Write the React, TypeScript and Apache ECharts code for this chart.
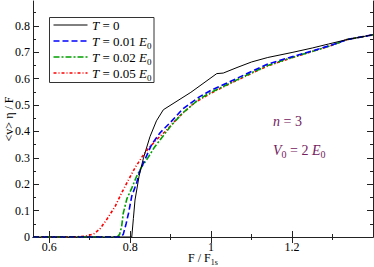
import React, { useEffect, useRef } from "react";
import * as echarts from "echarts";

const xT0 = [0.56, 0.804, 0.808, 0.812, 0.822, 0.833, 0.849, 0.865, 0.882, 0.95, 1.014, 1.03, 1.064, 1.1, 1.14, 1.2, 1.25, 1.29, 1.336, 1.4];
const yT0 = [0, 0, 0.07, 0.14, 0.23, 0.3, 0.38, 0.44, 0.482, 0.548, 0.619, 0.621, 0.642, 0.663, 0.68, 0.699, 0.716, 0.731, 0.748, 0.766];

const xT1 = [0.56, 0.778, 0.783, 0.79, 0.796, 0.804, 0.816, 0.824, 0.837, 0.853, 0.874, 0.9, 0.93, 0.97, 1.0, 1.04, 1.1, 1.14, 1.2, 1.25, 1.3, 1.336, 1.4];
const yT1 = [0, 0, 0.01, 0.05, 0.09, 0.155, 0.205, 0.25, 0.295, 0.35, 0.395, 0.435, 0.485, 0.53, 0.556, 0.584, 0.627, 0.655, 0.683, 0.705, 0.728, 0.748, 0.766];

const xT2 = [0.56, 0.768, 0.774, 0.779, 0.783, 0.792, 0.804, 0.816, 0.83, 0.841, 0.86, 0.88, 0.9, 0.93, 0.97, 1.0, 1.04, 1.1, 1.14, 1.2, 1.25, 1.3, 1.336, 1.4];
const yT2 = [0, 0, 0.01, 0.04, 0.09, 0.145, 0.185, 0.23, 0.27, 0.293, 0.34, 0.38, 0.42, 0.47, 0.522, 0.548, 0.578, 0.622, 0.65, 0.68, 0.703, 0.727, 0.748, 0.766];

const xT5 = [0.56, 0.66, 0.69, 0.71, 0.725, 0.742, 0.763, 0.779, 0.796, 0.812, 0.83, 0.845, 0.866, 0.89, 0.92, 0.96, 1.0, 1.04, 1.1, 1.14, 1.2, 1.25, 1.3, 1.336, 1.4];
const yT5 = [0, 0, 0.003, 0.012, 0.03, 0.066, 0.116, 0.167, 0.217, 0.262, 0.305, 0.335, 0.37, 0.405, 0.455, 0.51, 0.545, 0.576, 0.62, 0.648, 0.679, 0.703, 0.727, 0.748, 0.766];

const xMajor = [0.6, 0.8, 1.0, 1.2];
const xMinor = [0.7, 0.9, 1.1, 1.3];
const yMajor = [0, 0.1, 0.2, 0.3, 0.4, 0.5, 0.6, 0.7, 0.8];
const yMinor = [0.05, 0.15, 0.25, 0.35, 0.45, 0.55, 0.65, 0.75, 0.85];

const legendLabels = [
  "{i|T} = 0",
  "{i|T} = 0.01 {i|E}{s|0}",
  "{i|T} = 0.02 {i|E}{s|0}",
  "{i|T} = 0.05 {i|E}{s|0}",
];

const FONT = "'Liberation Serif', 'Times New Roman', serif";
const ANN = "#74215e";

const zip = (xs: number[], ys: number[]) => xs.map((x, i) => [x, ys[i]]);

const styles = [
  { color: "#000000", width: 1, type: "solid" as any },
  { color: "#0000ff", width: 1.6, type: [6, 3] as any },
  { color: "#00a000", width: 1.6, type: [6, 2, 2, 2] as any },
  { color: "#ff0000", width: 1.6, type: [3, 2, 1, 2] as any },
];

export default function App() {
  const ref = useRef<HTMLDivElement>(null);
  useEffect(() => {
    if (!ref.current) return;
    const chart = echarts.init(ref.current, undefined, { renderer: "svg" });
    const X0 = 0.56, X1 = 1.4, Y0 = 0, Y1 = 0.894;
    const axisLine = { show: true, lineStyle: { color: "#222", width: 1 } };
    const tickStyle = { color: "#222", width: 1 };
    const mkX = (pos: string, vals: number[], len: number, main: boolean) => ({
      type: "value",
      position: pos,
      min: X0,
      max: X1,
      gridIndex: 0,
      axisLine: main ? axisLine : { show: false },
      splitLine: { show: false },
      axisTick: { show: true, inside: true, length: len, customValues: vals, lineStyle: tickStyle },
      axisLabel:
        main && pos === "bottom"
          ? {
              show: true,
              customValues: vals,
              fontFamily: FONT,
              fontSize: 12,
              color: "#000",
              margin: 4,
              formatter: (v: number) => (Math.abs(v - 1) < 1e-9 ? "1" : String(Number(v.toFixed(1)))),
            }
          : { show: false },
      ...(main && pos === "bottom"
        ? {
            name: "{m|F / F}{s|1s}",
            nameLocation: "middle",
            nameGap: 13,
            nameMoveOverlap: false,
            nameTextStyle: {
              fontFamily: FONT,
              rich: {
                m: { fontFamily: FONT, fontSize: 12, color: "#000", lineHeight: 16, verticalAlign: "middle" },
                s: { fontFamily: FONT, fontSize: 8, color: "#000", lineHeight: 8, verticalAlign: "bottom" },
              },
            },
          }
        : {}),
    });
    const mkY = (pos: string, vals: number[], len: number, main: boolean) => ({
      type: "value",
      position: pos,
      min: Y0,
      max: Y1,
      gridIndex: 0,
      axisLine: main ? axisLine : { show: false },
      splitLine: { show: false },
      axisTick: { show: true, inside: true, length: len, customValues: vals, lineStyle: tickStyle },
      axisLabel:
        main && pos === "left"
          ? {
              show: true,
              customValues: vals,
              fontFamily: FONT,
              fontSize: 12,
              color: "#000",
              margin: 3,
              formatter: (v: number) => (v === 0 ? "0" : v.toFixed(1)),
            }
          : { show: false },
      ...(main && pos === "left"
        ? {
            name: "<v> η / F",
            nameLocation: "middle",
            nameGap: 18,
            nameMoveOverlap: false,
            nameTextStyle: { fontFamily: FONT, fontSize: 12, color: "#000" },
          }
        : {}),
    });

    const legendX = 49.5, legendY = 17.5, rowY0 = 25, rowDY = 16;
    const graphic: any[] = [
      {
        type: "rect",
        shape: { x: legendX, y: legendY, width: 104.5, height: 65 },
        style: { fill: "#fff", stroke: "#333", lineWidth: 1 },
        z: 100,
      },
    ];
    legendLabels.forEach((lab, i) => {
      const y = rowY0 + i * rowDY;
      graphic.push({
        type: "line",
        shape: { x1: 53.5, y1: y, x2: 87.5, y2: y },
        style: { stroke: styles[i].color, lineWidth: styles[i].width, lineDash: styles[i].type === "solid" ? null : styles[i].type },
        z: 101,
      });
      graphic.push({
        type: "text",
        x: 92,
        y: y,
        z: 101,
        style: {
          text: lab,
          fill: "#000",
          font: `13px ${FONT}`,
          verticalAlign: "middle",
          rich: {
            i: { fontFamily: FONT, fontSize: 13, fontStyle: "italic", lineHeight: 18, verticalAlign: "middle" },
            s: { fontFamily: FONT, fontSize: 9, lineHeight: 9, verticalAlign: "bottom" },
          },
        },
      });
    });
    const annRich = {
      i: { fontFamily: FONT, fontSize: 14, fontStyle: "italic", fill: ANN, color: ANN, lineHeight: 18, verticalAlign: "middle" },
      s: { fontFamily: FONT, fontSize: 10, fill: ANN, color: ANN, lineHeight: 10, verticalAlign: "bottom" },
    };
    graphic.push({
      type: "text",
      x: 273,
      y: 121,
      style: { text: "{i|n} = 3", fill: ANN, font: `14px ${FONT}`, verticalAlign: "middle", rich: annRich },
    });
    graphic.push({
      type: "text",
      x: 273,
      y: 150,
      style: { text: "{i|V}{s|0} = 2 {i|E}{s|0}", fill: ANN, font: `14px ${FONT}`, verticalAlign: "middle", rich: annRich },
    });

    const datasets = [zip(xT0, yT0), zip(xT1, yT1), zip(xT2, yT2), zip(xT5, yT5)];

    chart.setOption({
      animation: false,
      backgroundColor: "#fff",
      textStyle: { fontFamily: FONT },
      grid: { left: 33, right: 1, top: 1, bottom: 30, containLabel: false, outerBoundsMode: "none" },
      xAxis: [
        mkX("bottom", xMajor, 6, true),
        mkX("bottom", xMinor, 3, false),
        mkX("top", xMajor, 6, true),
        mkX("top", xMinor, 3, false),
      ],
      yAxis: [
        mkY("left", yMajor, 6, true),
        mkY("left", yMinor, 3, false),
        mkY("right", yMajor, 6, true),
        mkY("right", yMinor, 3, false),
      ],
      series: datasets.map((d, i) => ({
        type: "line",
        xAxisIndex: 0,
        yAxisIndex: 0,
        data: d,
        showSymbol: false,
        symbol: "none",
        smooth: false,
        clip: true,
        lineStyle: { color: styles[i].color, width: styles[i].width, type: styles[i].type },
        z: 10 - i,
      })),
      graphic,
    });
    return () => chart.dispose();
  }, []);
  return (
    <div
      ref={ref}
      style={{ position: "fixed", left: 0, top: 0, width: 374, height: 267, background: "#fff" }}
    />
  );
}
